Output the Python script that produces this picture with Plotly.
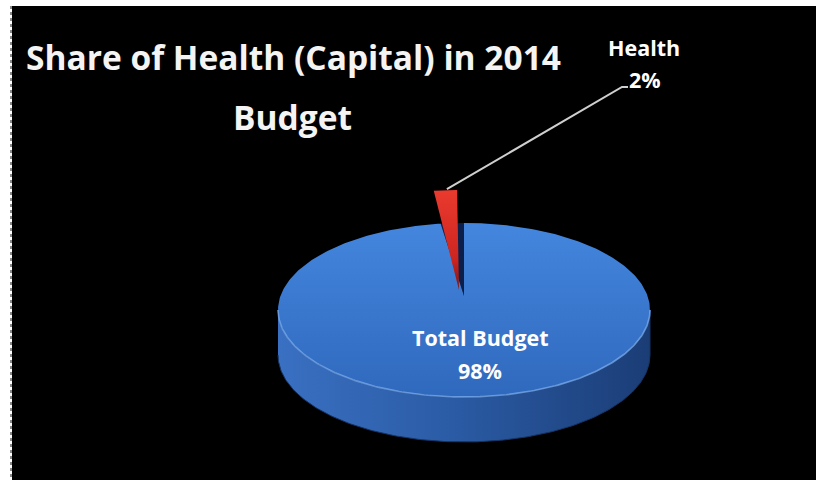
import numpy as np
import plotly.graph_objects as go

# ---- data ----
categories = ["Health", "Total Budget"]
values = [2, 98]
title_lines = ["Share of Health (Capital) in 2014", "Budget"]

# ---- canvas / pie geometry (pixel-like coordinates, y grows downward) ----
W, H = 819, 486
cx, cy = 464, 310          # centre of the top-face ellipse
rx, ry = 186, 87           # ellipse radii
apex_y = 296               # projected pie centre (perspective)
depth = 45                 # wall thickness
explode = 0.38             # pull-out of the Health slice (outer edge)
apex_lift = 6              # pull-out of the Health slice tip (perspective)
start_angle = 90.0

total = float(sum(values))
sweeps = [360.0 * v / total for v in values]
a0 = start_angle
a1 = a0 + sweeps[0]          # Health: a0 -> a1 (counter-clockwise)
a2 = a1 + sweeps[1]          # Total Budget: a1 -> a2


def arc(t0, t1, n=200, ox=0.0, oy=0.0):
    th = np.radians(np.linspace(t0, t1, n))
    return cx + rx * np.cos(th) + ox, cy - ry * np.sin(th) + oy


fig = go.Figure()

# side wall of the disc (front half)
wx, wy = arc(180, 360)
fig.add_trace(go.Scatter(
    x=np.concatenate([wx, wx[::-1]]),
    y=np.concatenate([wy, (wy + depth)[::-1]]),
    fill="toself", mode="lines", line=dict(width=1, color="#163564"),
    fillgradient=dict(type="horizontal",
                      colorscale=[[0, "#3a70c2"], [0.45, "#2b5ca6"], [1, "#1b3d76"]]),
    hoverinfo="skip", showlegend=False))

# gap left by the pulled-out slice
nx, ny = arc(a0, a1, 30)
fig.add_trace(go.Scatter(
    x=np.concatenate([[cx], nx, [cx]]), y=np.concatenate([[apex_y], ny, [apex_y]]),
    fill="toself", mode="lines", line=dict(width=0), fillcolor="#0c1f4a",
    hoverinfo="skip", showlegend=False))

# top face of the Total Budget slice
bx, by = arc(a1, a2, 400)
fig.add_trace(go.Scatter(
    x=np.concatenate([[cx], bx, [cx]]), y=np.concatenate([[apex_y], by, [apex_y]]),
    fill="toself", mode="lines", line=dict(width=0),
    fillgradient=dict(type="vertical", start=cy - ry, stop=cy + ry,
                      colorscale=[[0, "#4486de"], [1, "#2f69bd"]]),
    hoverinfo="skip", showlegend=False))

# light rim along the front edge of the top face
fig.add_trace(go.Scatter(
    x=wx, y=wy, mode="lines", line=dict(width=1.6, color="rgba(125,175,240,0.75)"),
    hoverinfo="skip", showlegend=False))

# exploded Health slice
mid = np.radians((a0 + a1) / 2)
dx = explode * rx * np.cos(mid) - 2.5
dy = -explode * ry * np.sin(mid)
hx, hy = arc(a0, a1, 30, dx, dy)
tip_x, tip_y = cx - 5, apex_y - apex_lift
fig.add_trace(go.Scatter(
    x=np.concatenate([[tip_x], hx, [tip_x]]),
    y=np.concatenate([[tip_y], hy, [tip_y]]),
    fill="toself", mode="lines", line=dict(width=0),
    fillgradient=dict(type="vertical", start=cy - ry + dy, stop=tip_y,
                      colorscale=[[0, "#ea3a2e"], [0.7, "#cc2520"], [1, "#7a1414"]]),
    hoverinfo="skip", showlegend=False))

# leader line from the Health slice to its label
lab_x, lab_y = 644, 47
lx0 = cx + rx * np.cos(mid) + dx + 1.5
ly0 = cy - ry * np.sin(mid) + dy - 1
fig.add_trace(go.Scatter(
    x=[lx0, lab_x - 22, lab_x - 16], y=[ly0, lab_y + 40, lab_y + 40],
    mode="lines", line=dict(width=2, color="#cfcfcf"),
    hoverinfo="skip", showlegend=False))

# ---- text ----
lab_font = dict(family="Open Sans", size=21.5, color="#ffffff", weight="bold")
title_font = dict(family="Open Sans", size=33.5, color="#f4f4f4", weight="bold")

annotations = [
    dict(x=293, y=57, text=title_lines[0], font=title_font),
    dict(x=292, y=117, text=title_lines[1], font=title_font),
    dict(x=lab_x, y=lab_y, text=categories[0], font=lab_font),
    dict(x=lab_x + 1, y=lab_y + 32, text=f"{values[0]}%", font=lab_font),
    dict(x=480, y=337, text=categories[1], font=lab_font),
    dict(x=480, y=370, text=f"{values[1]}%", font=lab_font),
]
for a in annotations:
    a.update(xref="x", yref="y", showarrow=False, xanchor="center", yanchor="middle")

fig.update_layout(
    width=W, height=H,
    margin=dict(l=0, r=0, t=0, b=0),
    paper_bgcolor="#ffffff", plot_bgcolor="#ffffff",
    xaxis=dict(range=[0, W], visible=False, fixedrange=True),
    yaxis=dict(range=[H, 0], visible=False, fixedrange=True),
    showlegend=False,
    annotations=annotations,
    shapes=[
        dict(type="rect", xref="x", yref="y", x0=12, x1=816, y0=6, y1=480,
             fillcolor="#000000", line=dict(width=0), layer="below"),
        dict(type="line", xref="x", yref="y", x0=11, x1=11, y0=6, y1=480,
             line=dict(color="#8a8a8a", width=2, dash="dot"), layer="below"),
    ],
)

fig.write_html("out.html")
